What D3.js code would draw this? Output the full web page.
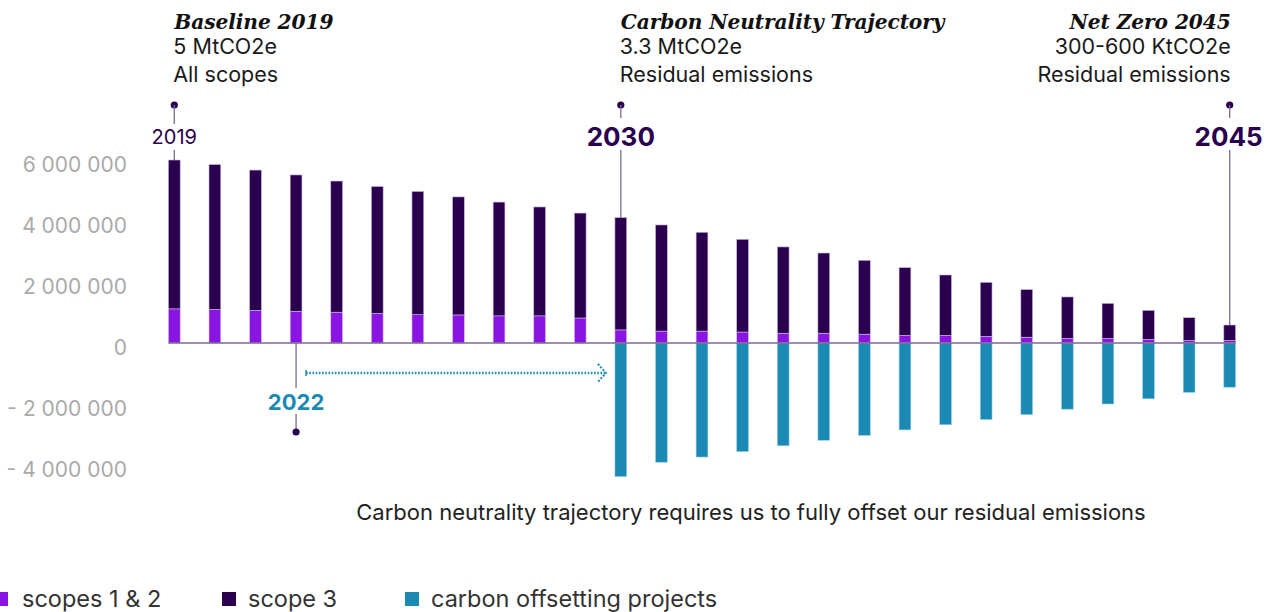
<!doctype html>
<html>
<head>
<meta charset="utf-8">
<script src="https://cdn.jsdelivr.net/npm/d3@7"></script>
<style>
  body { margin: 0; background: #fff; }
  text { font-family: Inter, "Noto Sans", sans-serif; }
</style>
</head>
<body>
<div id="chart"></div>
<script>

// data (tCO2e)
var years = d3.range(2019, 2046);
var scopes12 = [1120000, 1100000, 1070000, 1040000, 1010000, 970000, 930000, 920000, 890000, 890000, 820000,
                430000, 390000, 390000, 360000, 320000, 320000, 290000, 250000, 250000, 220000, 190000,
                150000, 150000, 120000, 80000, 80000];
var totals = [6000000, 5850000, 5670000, 5510000, 5310000, 5130000, 4970000, 4790000, 4620000, 4460000, 4260000,
              4110000, 3870000, 3630000, 3400000, 3150000, 2950000, 2710000, 2470000, 2230000, 1990000, 1750000,
              1510000, 1300000, 1070000, 830000, 590000];
var offsets = [0, 0, 0, 0, 0, 0, 0, 0, 0, 0, 0,
               -4380000, -3910000, -3740000, -3560000, -3370000, -3190000, -3030000, -2850000, -2680000, -2510000, -2350000,
               -2170000, -2000000, -1830000, -1620000, -1450000];
var yTicks = [6000000, 4000000, 2000000, 0, -2000000, -4000000];
var legendNames = ["scopes 1 & 2", "scope 3", "carbon offsetting projects"];

var width = 1272, height = 612;
var cViolet = "#8a14e2", cDark = "#2a004f", cTeal = "#1a8ab4", cLine = "#7a6a90";

var svg = d3.select("#chart").append("svg").attr("width", width).attr("height", height);

var x = d3.scaleBand().domain(years).range([154, 1250]).paddingInner(0.71).paddingOuter(0.355);
var y = d3.scaleLinear().domain([-4000000, 6000000]).range([465, 160]);

var rows = years.map(function(yr, i) {
  return {year: yr, s12: scopes12[i], s3: totals[i] - scopes12[i], off: offsets[i]};
});

// y axis
var fmt = function(d) {
  var s = d3.format(",")(Math.abs(d)).replace(/,/g, " ");
  return (d < 0 ? "- " : "") + s;
};
var yAxis = svg.append("g").attr("transform", "translate(127,0)")
  .call(d3.axisLeft(y).tickValues(yTicks).tickSize(0).tickPadding(0).tickFormat(fmt));
yAxis.select(".domain").remove();
yAxis.selectAll("text").attr("fill", "#aaaaaa").style("font-size", "21px")
  .style("font-family", "Inter, sans-serif").attr("dy", "0.55em");

// bars
var g = svg.append("g");
g.selectAll(".b12").data(rows).enter().append("rect")
  .attr("x", function(d) { return x(d.year); })
  .attr("width", x.bandwidth())
  .attr("y", function(d) { return y(d.s12); })
  .attr("height", function(d) { return y(0) - y(d.s12); })
  .attr("fill", cViolet).attr("stroke", "#d6c4f0").attr("stroke-width", 0.6);

g.selectAll(".b3").data(rows).enter().append("rect")
  .attr("x", function(d) { return x(d.year); })
  .attr("width", x.bandwidth())
  .attr("y", function(d) { return y(d.s12 + d.s3); })
  .attr("height", function(d) { return y(d.s12) - y(d.s12 + d.s3); })
  .attr("fill", cDark).attr("stroke", "#c8b8dc").attr("stroke-width", 0.6);

g.selectAll(".bo").data(rows.filter(function(d) { return d.off < 0; })).enter().append("rect")
  .attr("x", function(d) { return x(d.year); })
  .attr("width", x.bandwidth())
  .attr("y", y(0))
  .attr("height", function(d) { return y(d.off) - y(0); })
  .attr("fill", cTeal).attr("stroke", "#9fd0e4").attr("stroke-width", 0.6);

// zero line
svg.append("line")
  .attr("x1", x(2019)).attr("x2", x(2045) + x.bandwidth())
  .attr("y1", y(0)).attr("y2", y(0))
  .attr("stroke", cLine).attr("stroke-width", 1.3);

function cx(yr) { return x(yr) + x.bandwidth() / 2; }

// milestone markers above bars
var marks = [
  {year: 2019, label: "2019", size: 20, weight: 400, anchor: "middle", dx: 0},
  {year: 2030, label: "2030", size: 26, weight: 700, anchor: "middle", dx: 0},
  {year: 2045, label: "2045", size: 26, weight: 700, anchor: "end", dx: 33}
];
marks.forEach(function(m) {
  var xi = cx(m.year);
  var top = y(totals[years.indexOf(m.year)]);
  svg.append("circle").attr("cx", xi).attr("cy", 105).attr("r", 3.6).attr("fill", cDark);
  svg.append("line").attr("x1", xi).attr("x2", xi).attr("y1", 105).attr("y2", m.year == 2019 ? 124 : 118)
    .attr("stroke", cLine).attr("stroke-width", 1.3);
  svg.append("line").attr("x1", xi).attr("x2", xi).attr("y1", 150).attr("y2", top)
    .attr("stroke", cLine).attr("stroke-width", 1.3);
  svg.append("text").attr("x", xi + m.dx).attr("y", 137).attr("dy", "0.36em")
    .attr("text-anchor", m.anchor).attr("fill", cDark)
    .style("font-size", m.size + "px").style("font-weight", m.weight).text(m.label);
});

// 2022 marker below
var x22 = cx(2022);
svg.append("line").attr("x1", x22).attr("x2", x22).attr("y1", y(0)).attr("y2", 388)
  .attr("stroke", cLine).attr("stroke-width", 1.3);
svg.append("line").attr("x1", x22).attr("x2", x22).attr("y1", 414).attr("y2", 430)
  .attr("stroke", cLine).attr("stroke-width", 1.3);
svg.append("circle").attr("cx", x22).attr("cy", 432).attr("r", 3.6).attr("fill", cDark);
svg.append("text").attr("x", x22).attr("y", 402).attr("dy", "0.36em")
  .attr("text-anchor", "middle").attr("fill", cTeal)
  .style("font-size", "22px").style("font-weight", 700).text("2022");

// dotted arrow 2022 -> 2030
var ax0 = x22 + 10, ax1 = x(2030) - 10, ay = 373;
svg.append("line").attr("x1", ax0).attr("x2", ax1).attr("y1", ay).attr("y2", ay)
  .attr("stroke", cTeal).attr("stroke-width", 2.6).attr("stroke-dasharray", "1.6 1.6");
svg.append("line").attr("x1", ax0).attr("x2", ax0).attr("y1", ay - 3).attr("y2", ay + 3)
  .attr("stroke", cTeal).attr("stroke-width", 1.5);
svg.append("path").attr("d", "M" + (ax1 - 7) + "," + (ay - 9) + "L" + (ax1 + 1) + "," + ay + "L" + (ax1 - 7) + "," + (ay + 9))
  .attr("fill", "none").attr("stroke", cTeal).attr("stroke-width", 2).attr("stroke-dasharray", "2 1.6");

// headers
var heads = [
  {x: cx(2019), anchor: "start", lines: ["Baseline 2019", "5 MtCO2e", "All scopes"]},
  {x: cx(2030), anchor: "start", lines: ["Carbon Neutrality Trajectory", "3.3 MtCO2e", "Residual emissions"]},
  {x: cx(2045) + 1, anchor: "end", lines: ["Net Zero 2045", "300-600 KtCO2e", "Residual emissions"]}
];
heads.forEach(function(h) {
  svg.append("text").attr("x", h.x).attr("y", 29).attr("text-anchor", h.anchor)
    .attr("fill", "#111").style("font-family", "'DejaVu Serif', serif")
    .style("font-style", "italic").style("font-weight", 700).style("font-size", "20.2px")
    .style("letter-spacing", "-0.1px")
    .text(h.lines[0]);
  svg.append("text").attr("x", h.x - (h.anchor == "start" ? 1 : 0)).attr("y", 54).attr("text-anchor", h.anchor)
    .attr("fill", "#1a1a1a").style("font-size", "21.5px").text(h.lines[1]);
  svg.append("text").attr("x", h.x - (h.anchor == "start" ? 1 : 0)).attr("y", 82).attr("text-anchor", h.anchor)
    .attr("fill", "#1a1a1a").style("font-size", "21.5px").text(h.lines[2]);
});

// caption
svg.append("text").attr("x", 751).attr("y", 520).attr("text-anchor", "middle")
  .attr("fill", "#222").style("font-size", "22px")
  .text("Carbon neutrality trajectory requires us to fully offset our residual emissions");

// legend
var legX = [-6, 222, 405];
var legC = [cViolet, cDark, cTeal];
legendNames.forEach(function(n, i) {
  svg.append("rect").attr("x", legX[i]).attr("y", 592).attr("width", 14).attr("height", 14).attr("fill", legC[i]);
  svg.append("text").attr("x", legX[i] + 26 + (i == 0 ? 2 : 0)).attr("y", 607)
    .attr("fill", "#333").style("font-size", "23.5px").text(n);
});

</script>
</body>
</html>
